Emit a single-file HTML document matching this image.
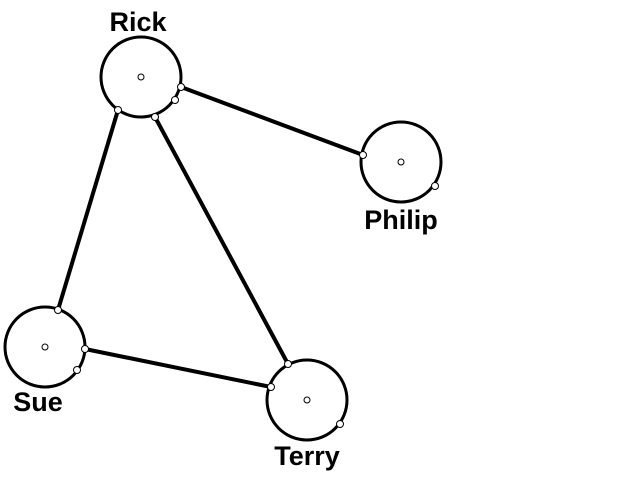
<!DOCTYPE html>
<html><head><meta charset="utf-8"><style>
html,body{margin:0;padding:0;background:#fff;width:640px;height:480px;overflow:hidden}
text{font-family:"Liberation Sans",sans-serif;font-weight:bold;font-size:27px;fill:#000}
</style></head><body>
<svg width="640" height="480" viewBox="0 0 640 480" xmlns="http://www.w3.org/2000/svg">
<g stroke="#000" stroke-width="4" fill="none">
<line x1="118" y1="110" x2="58" y2="310"/>
<line x1="155" y1="117" x2="288" y2="364"/>
<line x1="181" y1="87" x2="363" y2="155"/>
<line x1="85" y1="349" x2="271" y2="387"/>
</g>
<g stroke="#000" stroke-width="3" fill="none">
<circle cx="141" cy="77" r="40"/>
<circle cx="401" cy="162" r="40"/>
<circle cx="45" cy="347" r="40"/>
<circle cx="307" cy="400" r="40"/>
</g>
<g stroke="#000" stroke-width="1" fill="#fff">
<circle cx="118" cy="110" r="3.5"/><circle cx="155" cy="117" r="3.5"/><circle cx="175" cy="100" r="3.5"/><circle cx="181" cy="87" r="3.5"/>
<circle cx="363" cy="155" r="3.5"/><circle cx="435" cy="186" r="3.5"/>
<circle cx="58" cy="310" r="3.5"/><circle cx="85" cy="349" r="3.5"/><circle cx="77" cy="370" r="3.5"/>
<circle cx="288" cy="364" r="3.5"/><circle cx="271" cy="387" r="3.5"/><circle cx="340" cy="424" r="3.5"/>
<circle cx="141" cy="77" r="3"/><circle cx="401" cy="162" r="3"/><circle cx="45" cy="347" r="3"/><circle cx="307" cy="400" r="3"/>
</g>
<text x="138" y="31" text-anchor="middle">Rick</text>
<text x="401" y="229" text-anchor="middle">Philip</text>
<text x="38" y="411" text-anchor="middle">Sue</text>
<text x="307" y="465" text-anchor="middle">Terry</text>
</svg>
</body></html>
